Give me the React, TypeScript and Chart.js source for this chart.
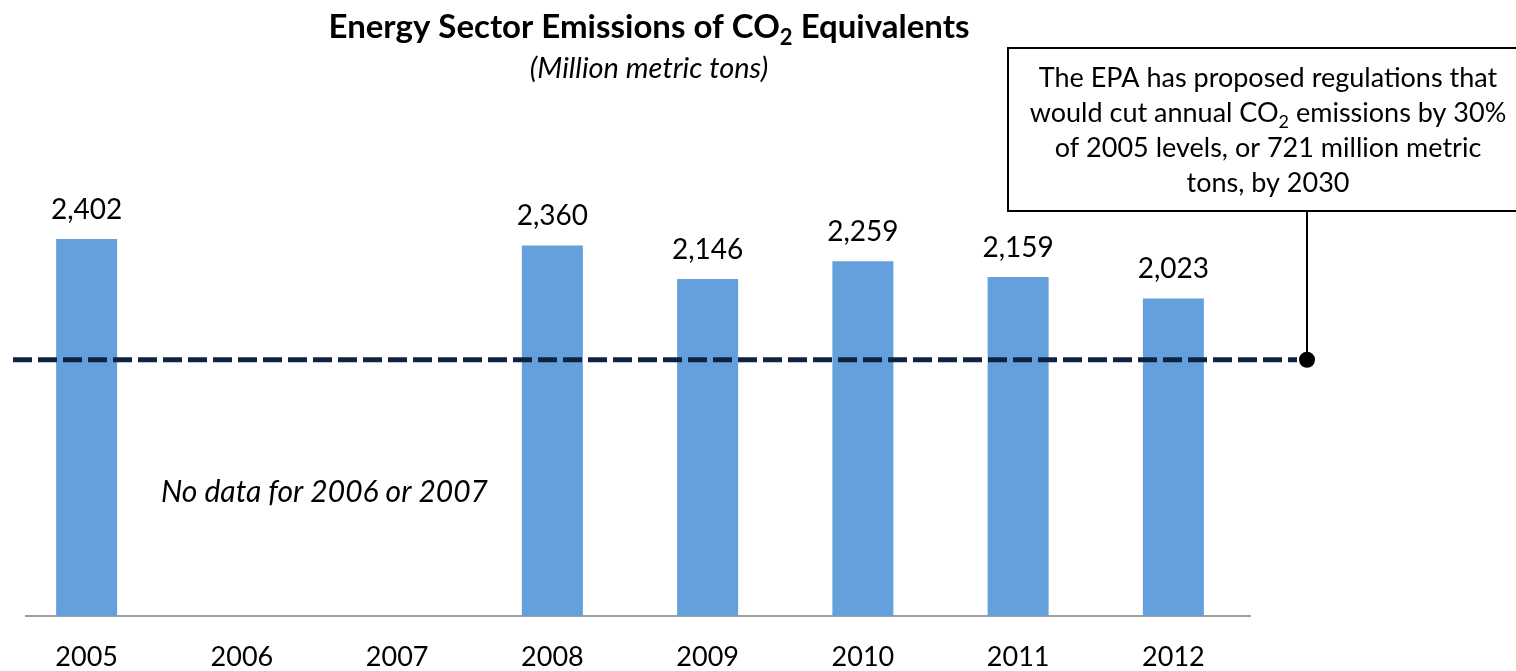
import React, { useEffect, useRef } from "react";
import { Chart, registerables } from "chart.js";

Chart.register(...registerables);

const years = ["2005", "2006", "2007", "2008", "2009", "2010", "2011", "2012"];
const emissions: (number | null)[] = [2402, null, null, 2360, 2146, 2259, 2159, 2023];
const targetLevel = 1632; // dashed line level as drawn
const noteLevel = 786; // vertical level of the "no data" note
const yMax = 3000;

const FONT = "Lato, 'Open Sans', sans-serif";
const BAR_COLOR = "#64a1dc";
const LINE_COLOR = "#0d2341";

type Seg = { t: string; sub?: boolean };

function drawRich(
  ctx: CanvasRenderingContext2D,
  segs: Seg[],
  cx: number,
  y: number,
  font: string,
  subFont: string,
  subOffset: number
) {
  let total = 0;
  const widths = segs.map((s) => {
    ctx.font = s.sub ? subFont : font;
    const w = ctx.measureText(s.t).width;
    total += w;
    return w;
  });
  let x = cx - total / 2;
  ctx.textAlign = "left";
  ctx.textBaseline = "alphabetic";
  segs.forEach((s, i) => {
    ctx.font = s.sub ? subFont : font;
    ctx.fillText(s.t, x, s.sub ? y + subOffset : y);
    x += widths[i];
  });
}

const annotationPlugin = {
  id: "annotations",
  beforeDatasetsDraw(chart: any) {
    const { ctx, scales } = chart;
    const y0 = scales.y.getPixelForValue(0);
    ctx.save();
    ctx.strokeStyle = "#a0a0a0";
    ctx.lineWidth = 2;
    ctx.beginPath();
    ctx.moveTo(25, y0);
    ctx.lineTo(chart.chartArea.right, y0);
    ctx.stroke();
    ctx.restore();
  },
  afterDatasetsDraw(chart: any) {
    const { ctx, scales } = chart;
    ctx.save();
    ctx.fillStyle = "#000";

    // Title
    drawRich(
      ctx,
      [{ t: "Energy Sector Emissions of CO" }, { t: "2", sub: true }, { t: " Equivalents" }],
      649,
      38,
      `bold 33px ${FONT}`,
      `bold 22px ${FONT}`,
      7
    );
    ctx.font = `italic 29px ${FONT}`;
    ctx.textAlign = "center";
    ctx.textBaseline = "alphabetic";
    ctx.fillText("(Million metric tons)", 649, 78);

    // dashed target line
    const ty = scales.y.getPixelForValue(targetLevel);
    ctx.strokeStyle = LINE_COLOR;
    ctx.lineWidth = 5;
    ctx.setLineDash([19, 6]);
    ctx.beginPath();
    ctx.moveTo(13, ty);
    ctx.lineTo(1297, ty);
    ctx.stroke();
    ctx.setLineDash([]);

    // connector + dot
    ctx.strokeStyle = "#000";
    ctx.lineWidth = 2;
    ctx.beginPath();
    ctx.moveTo(1307, 211);
    ctx.lineTo(1307, ty);
    ctx.stroke();
    ctx.beginPath();
    ctx.arc(1307, ty, 8, 0, Math.PI * 2);
    ctx.fillStyle = "#000";
    ctx.fill();

    // annotation box
    ctx.fillStyle = "#fff";
    ctx.fillRect(1008, 48, 530, 163);
    ctx.strokeStyle = "#000";
    ctx.lineWidth = 2;
    ctx.strokeRect(1008, 48, 530, 163);
    ctx.fillStyle = "#000";
    const bf = `27px ${FONT}`;
    const bs = `18px ${FONT}`;
    drawRich(ctx, [{ t: "The EPA has proposed regulations that" }], 1268, 87, bf, bs, 6);
    drawRich(
      ctx,
      [{ t: "would cut annual CO" }, { t: "2", sub: true }, { t: " emissions by 30%" }],
      1268,
      122,
      bf,
      bs,
      6
    );
    drawRich(ctx, [{ t: "of 2005 levels, or 721 million metric" }], 1268, 157, bf, bs, 6);
    drawRich(ctx, [{ t: "tons, by 2030" }], 1268, 192, bf, bs, 6);

    // value labels
    const meta = chart.getDatasetMeta(0);
    ctx.font = `28px ${FONT}`;
    ctx.textAlign = "center";
    ctx.textBaseline = "alphabetic";
    meta.data.forEach((bar: any, i: number) => {
      const v = emissions[i];
      if (v == null) return;
      ctx.fillText(v.toLocaleString("en-US"), bar.x, bar.y - 20);
    });

    // note
    const nx = (scales.x.getPixelForValue(1) + scales.x.getPixelForValue(2)) / 2;
    const ny = scales.y.getPixelForValue(noteLevel);
    ctx.font = `italic 30px ${FONT}`;
    ctx.textBaseline = "middle";
    ctx.fillText("No data for 2006 or 2007", nx + 5, ny);

    ctx.restore();
  },
};

export default function App() {
  const ref = useRef<HTMLCanvasElement | null>(null);
  useEffect(() => {
    if (!ref.current) return;
    const chart = new Chart(ref.current, {
      type: "bar",
      data: {
        labels: years,
        datasets: [
          {
            data: emissions,
            backgroundColor: BAR_COLOR,
            borderWidth: 0,
            barPercentage: 0.393,
            categoryPercentage: 1,
          },
        ],
      },
      options: {
        animation: false,
        responsive: true,
        maintainAspectRatio: false,
        layout: { padding: { left: 9, right: 265, top: 145, bottom: 0 } },
        plugins: {
          legend: { display: false },
          title: { display: false },
          tooltip: { enabled: false },
        },
        scales: {
          x: {
            grid: { display: false, drawTicks: false },
            border: { display: false },
            afterFit: (scale: any) => {
              scale.height = 55;
            },
            ticks: {
              color: "#000",
              padding: 28,
              font: { family: FONT, size: 27, lineHeight: 1 },
            },
          },
          y: {
            display: false,
            min: 0,
            max: yMax,
          },
        },
      },
      plugins: [annotationPlugin],
    });
    return () => chart.destroy();
  }, []);
  return (
    <div style={{ position: "fixed", left: 0, top: 0, width: 1516, height: 671, background: "#fff" }}>
      <canvas ref={ref} />
    </div>
  );
}
